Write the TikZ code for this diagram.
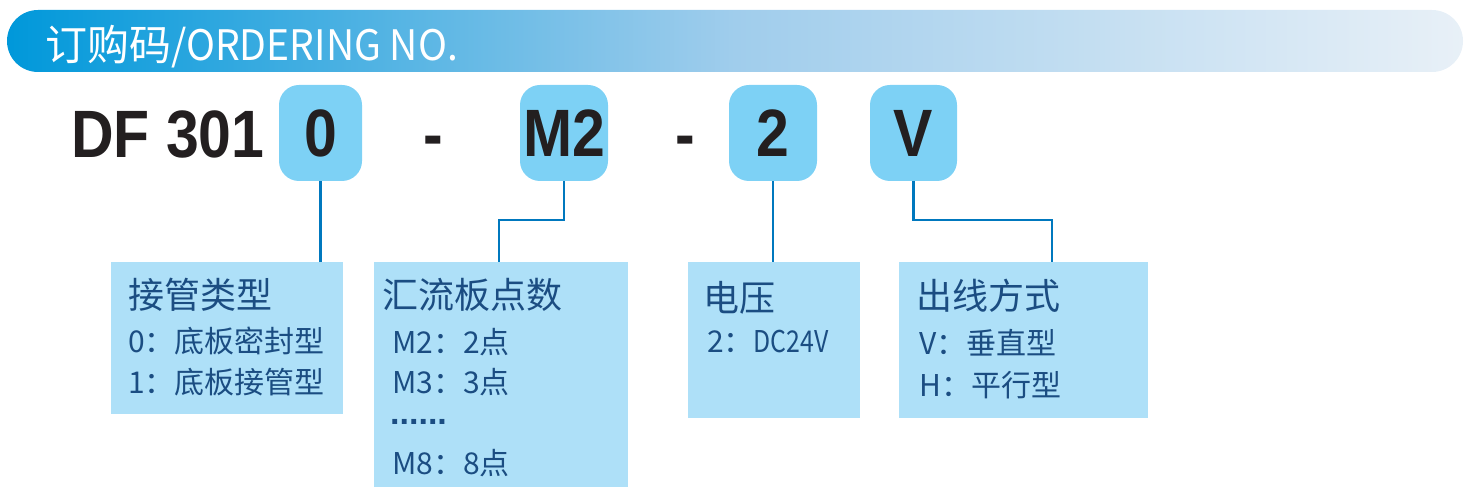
\documentclass[tikz,border=0pt]{standalone}
\usepackage{fontspec}
\usepackage{graphicx}
\setmainfont{Noto Sans CJK SC}
\newfontfamily\codefont{Liberation Sans}
\newcommand\codestr[1]{\scalebox{0.88}[1]{#1}}
\definecolor{headA}{RGB}{0,152,218}
\definecolor{headB}{RGB}{160,205,236}
\definecolor{headC}{RGB}{232,240,247}
\definecolor{codefill}{RGB}{125,209,245}
\definecolor{infofill}{RGB}{174,224,248}
\definecolor{infotext}{RGB}{27,77,130}
\definecolor{wirecol}{RGB}{0,120,190}
\definecolor{codetext}{RGB}{35,31,32}
\pgfdeclarehorizontalshading{headshade}{100bp}{color(0bp)=(headA); color(25bp)=(headA); color(50bp)=(headB); color(75bp)=(headC); color(100bp)=(headC)}

\begin{document}
\begin{tikzpicture}[x=1pt,y=-1pt,
      codebox/.style={fill=codefill,rounded corners=20pt,minimum height=96pt,inner sep=0pt,
        text=codetext,font=\codefont\bfseries\fontsize{67}{67}\selectfont},
      infobox/.style={fill=infofill,inner sep=0pt},
      title/.style={anchor=west,inner sep=0pt,text=infotext,font=\fontsize{36}{36}\selectfont},
      item/.style={anchor=west,inner sep=0pt,text=infotext,font=\fontsize{30}{30}\selectfont},
      wire/.style={draw=wirecol,line width=2.5pt}]
    \useasboundingbox (0,0) rectangle (1476,494);
    % header bar
    \node (head) [shading=headshade,rounded corners=31pt,minimum width=1456pt,minimum height=62pt,inner sep=0pt] at (735,41) {};
    \node (headtext) [anchor=base west,inner sep=0pt,text=white,font=\fontsize{42}{42}\selectfont] at (45,61)
      {订购码\scalebox{0.93}[1]{/ORDERING NO.}};
    % order code
    \node (model) [anchor=base west,inner sep=0pt,text=codetext,font=\codefont\bfseries\fontsize{67}{67}\selectfont] at (71,158) {\codestr{DF 301}};
    \node (c0) [codebox,minimum width=83pt] at (320.5,133) {\codestr{0}};
    \node (d0) [anchor=base,inner sep=0pt,text=codetext,font=\codefont\bfseries\fontsize{67}{67}\selectfont] at (433,158) {\codestr{-}};
    \node (c1) [codebox,minimum width=88pt] at (564,133) {\codestr{M2}};
    \node (d1) [anchor=base,inner sep=0pt,text=codetext,font=\codefont\bfseries\fontsize{67}{67}\selectfont] at (685,158) {\codestr{-}};
    \node (c2) [codebox,minimum width=88pt] at (773,133) {\codestr{2}};
    \node (c3) [codebox,minimum width=87pt] at (913.5,133) {\codestr{V}};
    % option boxes
    \node (t0) [infobox,minimum width=232pt,minimum height=152pt] at (227,338) {};
    \node (t1) [infobox,minimum width=254pt,minimum height=225pt] at (501,374.5) {};
    \node (t2) [infobox,minimum width=172pt,minimum height=156pt] at (774,340) {};
    \node (t3) [infobox,minimum width=249pt,minimum height=156pt] at (1023.5,340) {};
    \node (t0a) [title] at (128,295) {接管类型};
    \node (t0b) [item] at (128,341.5) {0：底板密封型};
    \node (t0c) [item] at (128,382) {1：底板接管型};
    \node (t1a) [title] at (382,295) {汇流板点数};
    \node (t1b) [item] at (392,342) {M2：2点};
    \node (t1c) [item] at (392,382) {M3：3点};
    \node (t1d) [item,font=\codefont\bfseries\fontsize{34}{34}\selectfont] at (390,422) {......};
    \node (t1e) [item] at (392,463) {M8：8点};
    \node (t2a) [title] at (703,297.5) {电压};
    \node (t2b) [item] at (707,342) {2：\scalebox{0.83}[1]{DC24V}};
    \node (t3a) [title] at (916,295.5) {出线方式};
    \node (t3b) [item] at (919,343) {V：垂直型};
    \node (t3c) [item] at (919,385) {H：平行型};
    % connectors
    \coordinate (k1) at (499,220);
    \coordinate (k3) at (1052,220);
    \draw[wire] (c0.south) -- (c0.south |- t0.north);
    \draw[wire] (c1.south) |- (k1) -- (k1 |- t1.north);
    \draw[wire] (c2.south) -- (c2.south |- t2.north);
    \draw[wire] (c3.south) |- (k3) -- (k3 |- t3.north);
\end{tikzpicture}
\end{document}
